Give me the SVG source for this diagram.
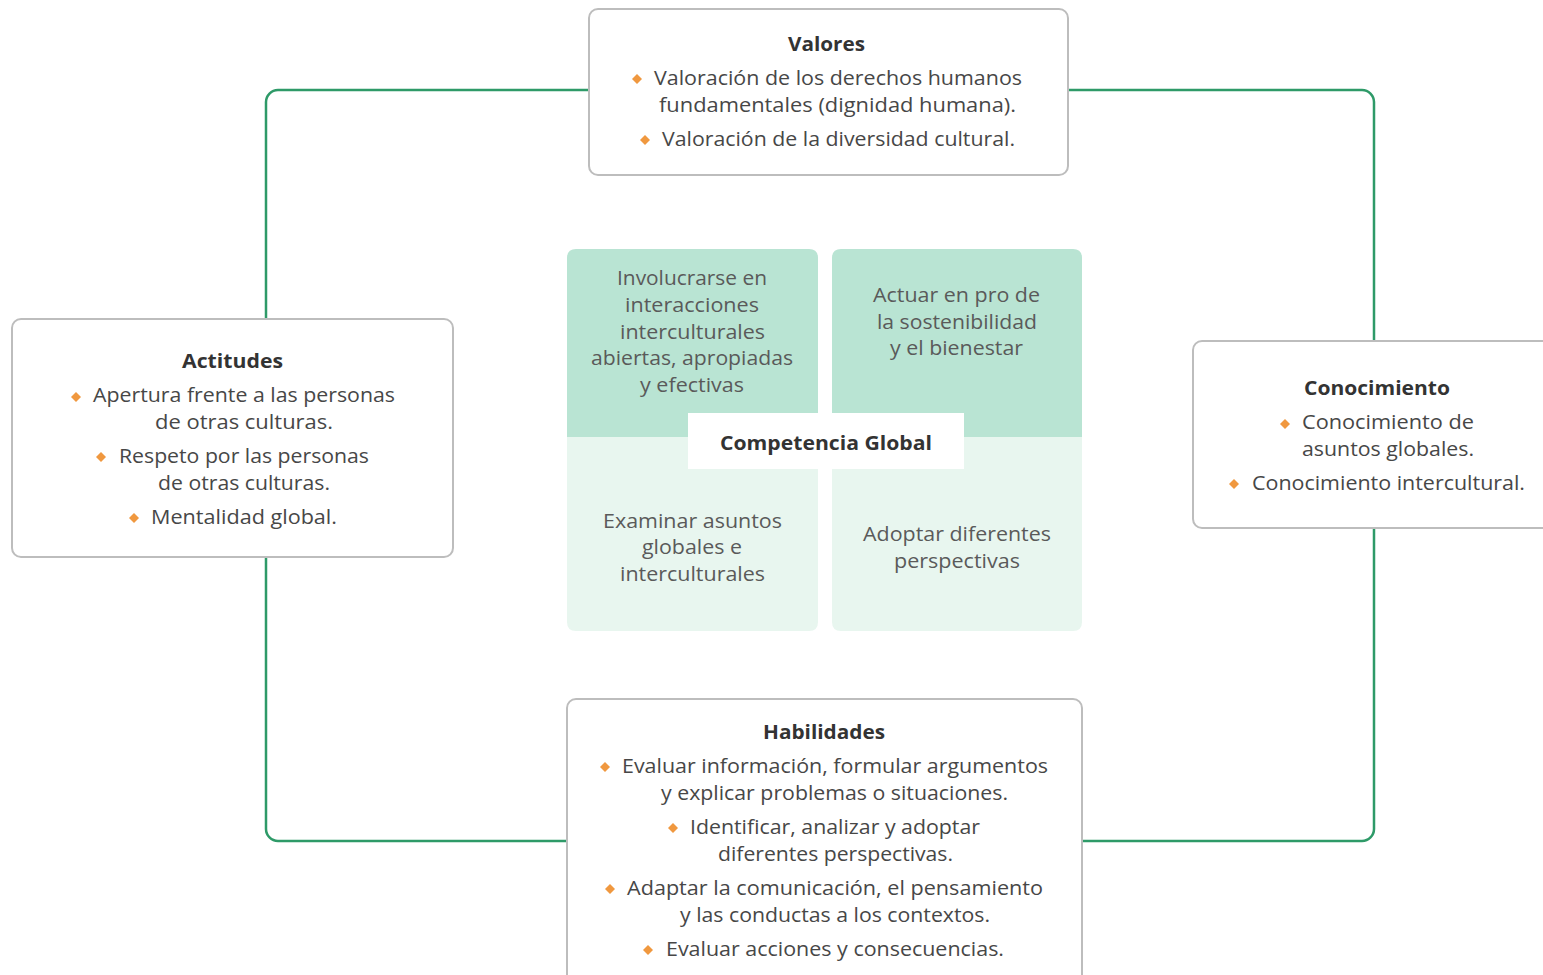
<svg xmlns="http://www.w3.org/2000/svg" width="1543" height="975" viewBox="0 0 1543 975">
<style>
.box{fill:#fff;stroke:#bdbdbd;stroke-width:2}
.ring{fill:none;stroke:#2e9a68;stroke-width:2.5}
.t{font-family:"Open Sans","Liberation Sans",sans-serif;font-size:20px;fill:#474747}
.h{font-family:"Open Sans","Liberation Sans",sans-serif;font-size:20px;font-weight:700;fill:#333}
.c{font-family:"Open Sans","Liberation Sans",sans-serif;font-size:20px;fill:#5a5a5a}
.b{fill:#f0983f}
.dk{fill:#b9e4d3}
.lt{fill:#e8f6ef}
</style>
<defs>
<path id="dia" d="M0,-5 L5,0 L0,5 L-5,0 Z"/>
</defs>
<rect width="1543" height="975" fill="#fff"/>
<g id="connectors">
<rect class="ring" x="266" y="90" width="1108" height="751" rx="12" ry="12"/>
</g>
<g id="valores">
<rect class="box" x="589" y="9" width="479" height="166" rx="9"/>
<text class="h" x="788" y="51" textLength="77" lengthAdjust="spacingAndGlyphs">Valores</text>
<use href="#dia" class="b" x="637" y="79"/>
<text class="t" x="654" y="85" textLength="368" lengthAdjust="spacingAndGlyphs">Valoración de los derechos humanos</text>
<text class="t" x="659" y="112" textLength="357" lengthAdjust="spacingAndGlyphs">fundamentales (dignidad humana).</text>
<use href="#dia" class="b" x="645" y="140"/>
<text class="t" x="662" y="146" textLength="353" lengthAdjust="spacingAndGlyphs">Valoración de la diversidad cultural.</text>
</g>
<g id="actitudes">
<rect class="box" x="12" y="319" width="441" height="238" rx="9"/>
<text class="h" x="182" y="368" textLength="101" lengthAdjust="spacingAndGlyphs">Actitudes</text>
<use href="#dia" class="b" x="76" y="397"/>
<text class="t" x="93" y="402" textLength="302" lengthAdjust="spacingAndGlyphs">Apertura frente a las personas</text>
<text class="t" x="155" y="429" textLength="178" lengthAdjust="spacingAndGlyphs">de  otras culturas.</text>
<use href="#dia" class="b" x="101" y="457"/>
<text class="t" x="119" y="463" textLength="250" lengthAdjust="spacingAndGlyphs">Respeto por las personas</text>
<text class="t" x="158" y="490" textLength="172" lengthAdjust="spacingAndGlyphs">de otras culturas.</text>
<use href="#dia" class="b" x="134" y="518"/>
<text class="t" x="151" y="524" textLength="186" lengthAdjust="spacingAndGlyphs">Mentalidad global.</text>
</g>
<g id="conocimiento">
<rect class="box" x="1193" y="341" width="380" height="187" rx="9"/>
<text class="h" x="1304" y="395" textLength="146" lengthAdjust="spacingAndGlyphs">Conocimiento</text>
<use href="#dia" class="b" x="1285" y="424"/>
<text class="t" x="1302" y="429" textLength="172" lengthAdjust="spacingAndGlyphs">Conocimiento de</text>
<text class="t" x="1302" y="456" textLength="172" lengthAdjust="spacingAndGlyphs">asuntos globales.</text>
<use href="#dia" class="b" x="1234" y="484"/>
<text class="t" x="1252" y="490" textLength="273" lengthAdjust="spacingAndGlyphs">Conocimiento intercultural.</text>
</g>
<g id="habilidades">
<rect class="box" x="567" y="699" width="515" height="300" rx="9"/>
<text class="h" x="763" y="739" textLength="122" lengthAdjust="spacingAndGlyphs">Habilidades</text>
<use href="#dia" class="b" x="605" y="767"/>
<text class="t" x="622" y="773" textLength="426" lengthAdjust="spacingAndGlyphs">Evaluar información, formular argumentos</text>
<text class="t" x="661" y="800" textLength="347" lengthAdjust="spacingAndGlyphs">y explicar problemas o situaciones.</text>
<use href="#dia" class="b" x="673" y="828"/>
<text class="t" x="690" y="834" textLength="290" lengthAdjust="spacingAndGlyphs">Identificar, analizar y adoptar</text>
<text class="t" x="718" y="861" textLength="235" lengthAdjust="spacingAndGlyphs">diferentes perspectivas.</text>
<use href="#dia" class="b" x="610" y="889"/>
<text class="t" x="627" y="895" textLength="416" lengthAdjust="spacingAndGlyphs">Adaptar la comunicación, el pensamiento</text>
<text class="t" x="680" y="922" textLength="310" lengthAdjust="spacingAndGlyphs">y las conductas a los contextos.</text>
<use href="#dia" class="b" x="648" y="950"/>
<text class="t" x="666" y="956" textLength="338" lengthAdjust="spacingAndGlyphs">Evaluar acciones y consecuencias.</text>
</g>
<g id="involucrarse">
<path class="dk" d="M567,437 V258 Q567,249 576,249 H809 Q818,249 818,258 V437 Z"/>
<text class="c" x="617" y="285" textLength="150" lengthAdjust="spacingAndGlyphs">Involucrarse en</text>
<text class="c" x="625" y="312" textLength="134" lengthAdjust="spacingAndGlyphs">interacciones</text>
<text class="c" x="620" y="339" textLength="145" lengthAdjust="spacingAndGlyphs">interculturales</text>
<text class="c" x="591" y="365" textLength="202" lengthAdjust="spacingAndGlyphs">abiertas, apropiadas</text>
<text class="c" x="640" y="392" textLength="104" lengthAdjust="spacingAndGlyphs">y efectivas</text>
</g>
<g id="actuar">
<path class="dk" d="M832,437 V258 Q832,249 841,249 H1073 Q1082,249 1082,258 V437 Z"/>
<text class="c" x="873" y="302" textLength="167" lengthAdjust="spacingAndGlyphs">Actuar en pro de</text>
<text class="c" x="877" y="329" textLength="160" lengthAdjust="spacingAndGlyphs">la sostenibilidad</text>
<text class="c" x="890" y="355" textLength="133" lengthAdjust="spacingAndGlyphs">y el bienestar</text>
</g>
<g id="examinar">
<path class="lt" d="M567,437 V622 Q567,631 576,631 H809 Q818,631 818,622 V437 Z"/>
<text class="c" x="603" y="528" textLength="179" lengthAdjust="spacingAndGlyphs">Examinar asuntos</text>
<text class="c" x="642" y="554" textLength="100" lengthAdjust="spacingAndGlyphs">globales e</text>
<text class="c" x="620" y="581" textLength="145" lengthAdjust="spacingAndGlyphs">interculturales</text>
</g>
<g id="adoptar">
<path class="lt" d="M832,437 V622 Q832,631 841,631 H1073 Q1082,631 1082,622 V437 Z"/>
<text class="c" x="863" y="541" textLength="188" lengthAdjust="spacingAndGlyphs">Adoptar diferentes</text>
<text class="c" x="894" y="568" textLength="126" lengthAdjust="spacingAndGlyphs">perspectivas</text>
</g>
<g id="competencia">
<rect x="688" y="413" width="276" height="56" fill="#fff"/>
<text class="h" x="720" y="450" textLength="212" lengthAdjust="spacingAndGlyphs">Competencia Global</text>
</g>
</svg>
